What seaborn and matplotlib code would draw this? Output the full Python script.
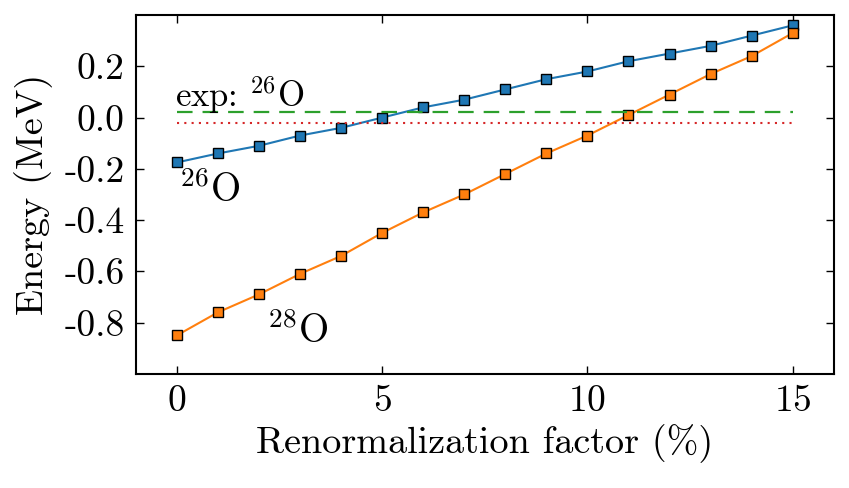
import numpy as np
import pandas as pd
import matplotlib
matplotlib.use('Agg')
import matplotlib.pyplot as plt
import seaborn as sns

# renormalization factor in percent
factor = list(range(16))
# energies (MeV)
e_o26 = [-0.175, -0.14, -0.11, -0.07, -0.04, 0.00, 0.04, 0.07, 0.11, 0.15,
         0.18, 0.22, 0.25, 0.28, 0.32, 0.36]
e_o28 = [-0.85, -0.76, -0.69, -0.61, -0.54, -0.45, -0.37, -0.30, -0.22, -0.14,
         -0.07, 0.01, 0.09, 0.17, 0.24, 0.33]
exp_upper = 0.02
exp_lower = -0.02
yticks = [-0.8, -0.6, -0.4, -0.2, 0.0, 0.2]
xticks = [0, 5, 10, 15]

sns.set_style('ticks')
plt.rcParams['font.family'] = ['cmr10', 'DejaVu Serif']
plt.rcParams['mathtext.fontset'] = 'cm'
plt.rcParams['axes.unicode_minus'] = False
plt.rcParams['axes.formatter.use_mathtext'] = True
plt.rcParams['text.color'] = 'black'
plt.rcParams['axes.labelcolor'] = 'black'
plt.rcParams['xtick.color'] = 'black'
plt.rcParams['ytick.color'] = 'black'
plt.rcParams['axes.edgecolor'] = 'black'

df = pd.DataFrame({'factor': factor, 'O26': e_o26, 'O28': e_o28})

fig, ax = plt.subplots(figsize=(8.49, 4.88), dpi=100)

sns.lineplot(data=df, x='factor', y='O26', ax=ax, color='#1f77b4', lw=1.5,
             marker='s', markersize=7, markeredgecolor='black', markeredgewidth=1)
sns.lineplot(data=df, x='factor', y='O28', ax=ax, color='#ff7f0e', lw=1.5,
             marker='s', markersize=7, markeredgecolor='black', markeredgewidth=1)

ax.plot([0, 15], [exp_upper, exp_upper], color='#2ca02c', ls=(0, (7, 4.5)), lw=1.6)
ax.plot([0, 15], [exp_lower, exp_lower], color='#d62728', ls=(0, (1, 2.5)), lw=1.5)

ax.text(-0.05, 0.04, r'exp: $^{26}$O', fontsize=25)
ax.text(0.05, -0.33, r'$^{26}$O', fontsize=28)
ax.text(2.2, -0.88, r'$^{28}$O', fontsize=28)

ax.set_xlim(-1, 16)
ax.set_ylim(-1.0, 0.4)
ax.set_xticks(xticks)
ax.set_yticks(yticks)
ax.set_yticklabels([f'{v:.1f}' for v in yticks])
ax.tick_params(direction='in', top=True, right=True, labelsize=27, length=6, width=1, pad=8)
for s in ax.spines.values():
    s.set_linewidth(1.5)
ax.set_xlabel('Renormalization factor (%)', fontsize=27.5)
ax.set_ylabel('Energy (MeV)', fontsize=27.5, labelpad=8)

fig.subplots_adjust(left=0.16, right=0.982, top=0.969, bottom=0.234)
fig.savefig('out.png', dpi=100)
